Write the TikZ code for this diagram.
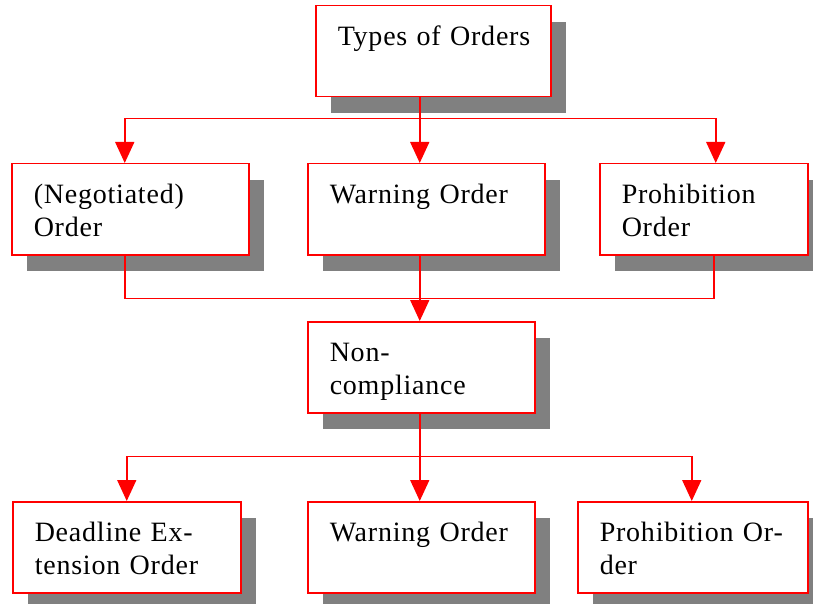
\documentclass[tikz,border=0pt]{standalone}
\usepackage{fontspec}
\setmainfont{Liberation Serif}[LetterSpace=2.8]
\usetikzlibrary{shadows, arrows.meta}

\begin{document}
\begin{tikzpicture}[
        x=1pt, y=1pt,
        box/.style={draw=red, line width=1.5pt, fill=white, anchor=north west,
            align=left, inner xsep=22pt, inner ysep=0pt,
            text height=40pt, text depth=51pt,
            font=\fontsize{28}{33}\selectfont,
            drop shadow={shadow xshift=15pt, shadow yshift=-16pt, fill=gray, opacity=1}},
        link/.style={draw=red, line width=1.6pt},
        arrow/.style={link, -{Triangle[length=21pt, width=19pt]}}
    ]
        \useasboundingbox (0,0) rectangle (813,-604);

        \node[box, text width=191pt] (types) at (315,-5) {\mbox{Types of Orders}};

        \node[box, text width=193pt] (nego)  at (11,-163)  {(Negotiated)\\Order};
        \node[box, text width=193pt] (warn)  at (307,-163) {\mbox{Warning Order}};
        \node[box, text width=164pt] (proh)  at (599,-163) {Prohibition\\Order};

        \node[box, text width=183pt] (nonc)  at (307,-321) {Non-\\compliance};

        \node[box, text width=184pt] (dead)  at (12,-501)  {\mbox{Deadline Ex-}\\\mbox{tension Order}};
        \node[box, text width=183pt] (warn2) at (307,-501) {\mbox{Warning Order}};
        \node[box, text width=186pt] (proh2) at (577,-501) {\mbox{Prohibition Or-}\\der};

        \draw[arrow] ([xshift=-13.5pt]types.south) -- ++(0,-21) -| ([xshift=-5.5pt]nego.north);
        \draw[arrow] ([xshift=-13.5pt]types.south) -- ([xshift=-6.5pt]warn.north);
        \draw[arrow] ([xshift=-13.5pt]types.south) -- ++(0,-21) -| ([xshift=12pt]proh.north);

        \draw[link] ([xshift=-5.5pt]nego.south) -- ++(0,-43) -| ([xshift=10pt]proh.south);
        \draw[arrow] ([xshift=-6.5pt]warn.south) -- ([xshift=-1.5pt]nonc.north);

        \draw[arrow] ([xshift=-1.5pt]nonc.south) -- ++(0,-43) -| (dead.north);
        \draw[arrow] ([xshift=-1.5pt]nonc.south) -- ([xshift=-1.5pt]warn2.north);
        \draw[arrow] ([xshift=-1.5pt]nonc.south) -- ++(0,-43) -| ([xshift=-1pt]proh2.north);
    \end{tikzpicture}
\end{document}
